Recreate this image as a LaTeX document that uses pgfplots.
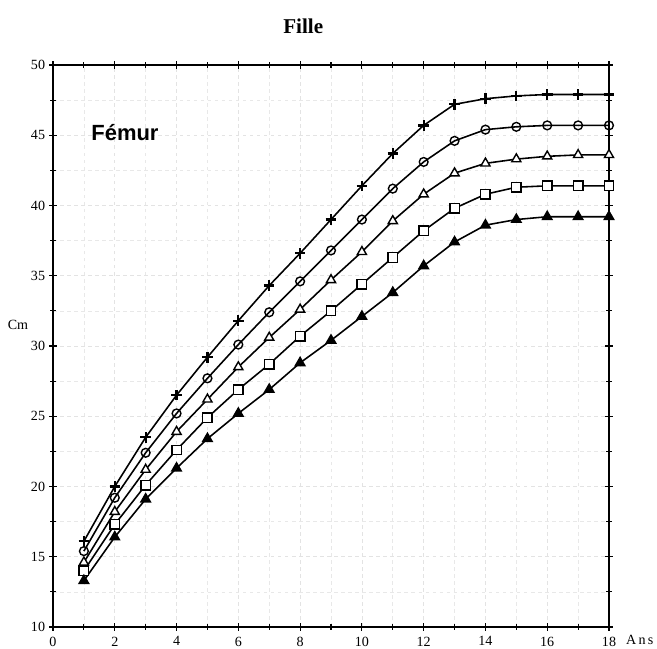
\documentclass[border=0pt]{standalone}
\usepackage{pgfplots}
\pgfplotsset{compat=1.18}
\usepackage{fontspec}
\setmainfont{Liberation Serif}
\newfontfamily\arial{Liberation Sans}

\begin{document}
\begin{tikzpicture}
\begin{axis}[name=ax,
  scale only axis, width=11.12cm, height=11.24cm,
  xmin=0, xmax=18, ymin=10, ymax=50,
  xtick={0,2,...,18}, minor xtick={1,3,...,17},
  ytick={10,15,...,50}, minor ytick={12.5,17.5,...,47.5},
  tick align=center, major tick length=4pt, minor tick length=3pt,
  tick style={black, line width=0.6pt},
  axis line style={line width=0.9pt},
  /pgf/number format/assume math mode=true,
  tick label style={font=\fontsize{8}{9}\selectfont},
  yticklabel style={xshift=1pt},
  grid=both,
  major grid style={gray!22, dash pattern=on 2pt off 2pt, line width=0.4pt},
  minor grid style={gray!18, dash pattern=on 2pt off 2pt, line width=0.4pt},
  ylabel={Cm},
  ylabel style={rotate=-90, font=\fontsize{8}{9}\selectfont, at={(axis description cs:-0.063,0.537)}, anchor=center},
  xlabel={A\,n\,s},
  xlabel style={font=\fontsize{8}{9}\selectfont, at={(axis description cs:1.03,0)}, anchor=north west, inner sep=0pt, yshift=-4.2pt},
  every axis plot/.append style={black, line width=0.9pt},
  clip=false,
]
% plus
\addplot[mark=+, mark size=3pt, mark options={line width=1.3pt}] coordinates {
(1,16.1)(2,20.0)(3,23.5)(4,26.5)(5,29.2)(6,31.8)(7,34.3)(8,36.6)(9,39.0)
(10,41.4)(11,43.7)(12,45.7)(13,47.2)(14,47.6)(15,47.8)(16,47.9)(17,47.9)(18,47.9)};
% open circle
\addplot[mark=o, mark size=2.5pt, mark options={fill=white, line width=0.8pt}] coordinates {
(1,15.4)(2,19.2)(3,22.4)(4,25.2)(5,27.7)(6,30.1)(7,32.4)(8,34.6)(9,36.8)
(10,39.0)(11,41.2)(12,43.1)(13,44.6)(14,45.4)(15,45.6)(16,45.7)(17,45.7)(18,45.7)};
% open triangle
\addplot[mark=triangle*, mark size=3pt, mark options={fill=white, line width=0.8pt}] coordinates {
(1,14.6)(2,18.2)(3,21.2)(4,23.9)(5,26.2)(6,28.5)(7,30.6)(8,32.6)(9,34.7)
(10,36.7)(11,38.9)(12,40.8)(13,42.3)(14,43.0)(15,43.3)(16,43.5)(17,43.6)(18,43.6)};
% open square
\addplot[mark=square*, mark size=2.7pt, mark options={fill=white, line width=0.8pt}] coordinates {
(1,14.0)(2,17.3)(3,20.1)(4,22.6)(5,24.9)(6,26.9)(7,28.7)(8,30.7)(9,32.5)
(10,34.4)(11,36.3)(12,38.2)(13,39.8)(14,40.8)(15,41.3)(16,41.4)(17,41.4)(18,41.4)};
% filled triangle
\addplot[mark=triangle*, mark size=3pt, mark options={fill=black}] coordinates {
(1,13.3)(2,16.4)(3,19.1)(4,21.3)(5,23.4)(6,25.2)(7,26.9)(8,28.8)(9,30.4)
(10,32.1)(11,33.8)(12,35.7)(13,37.4)(14,38.6)(15,39.0)(16,39.2)(17,39.2)(18,39.2)};
\node[font=\arial\bfseries\fontsize{12.5}{14}\selectfont] at (axis cs:2.33,45.2) {Fémur};
\node[font=\bfseries\fontsize{12}{14}\selectfont] at (axis description cs:0.45,1.068) {Fille};
\end{axis}
\pgfresetboundingbox
\path ([xshift=-1.06cm,yshift=-0.44cm]ax.south west) rectangle ([xshift=0.96cm,yshift=1.30cm]ax.north east);
\end{tikzpicture}
\end{document}
